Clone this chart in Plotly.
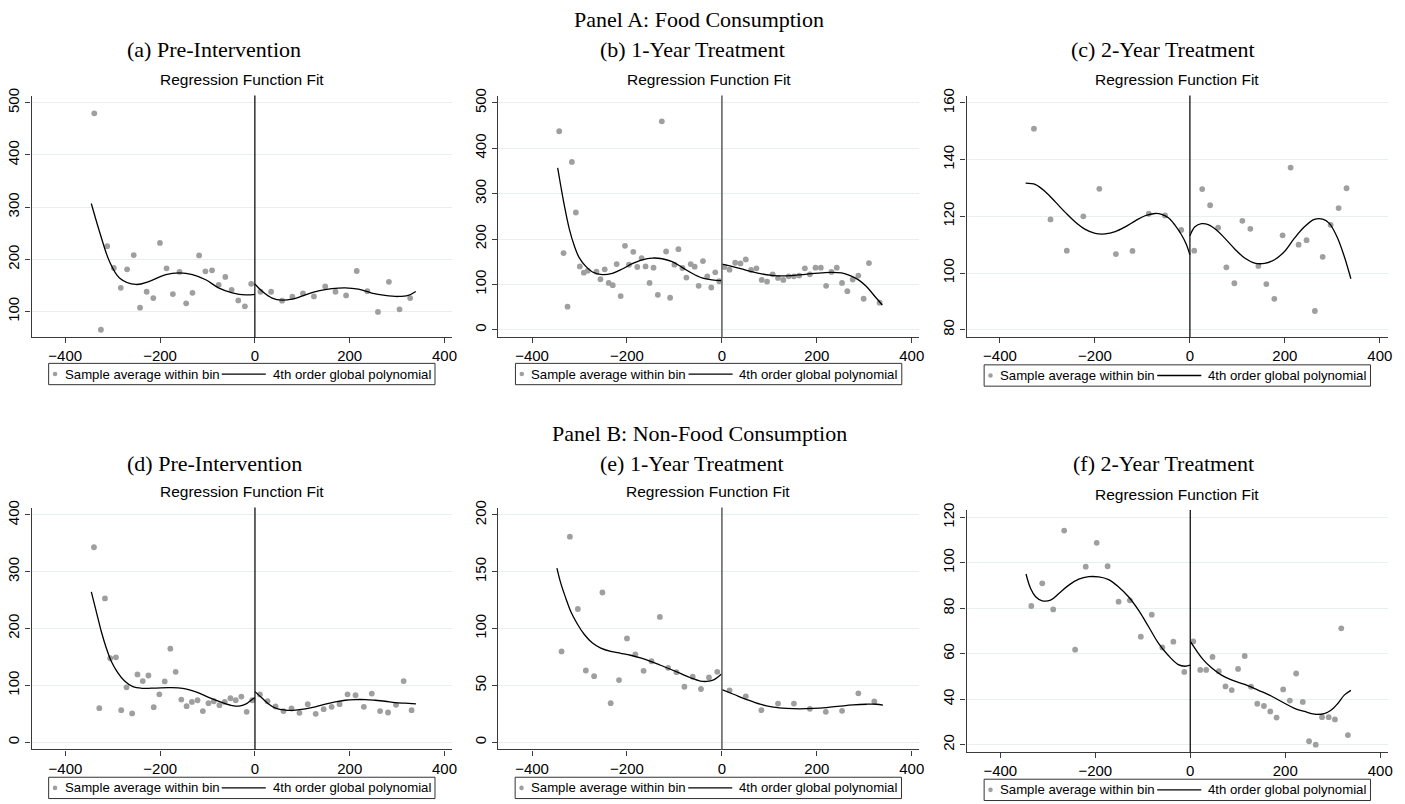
import plotly.graph_objects as go

W, H = 1405, 804

# ---------------- DATA ----------------
# Panel (a) Food, Pre-Intervention
a_pts_x = [-338.7, -324.7, -311.5, -297.5, -282.8, -269.5, -255.5, -242.2, -228.2, -214.2, -200.2, -186.2,
           -172.9, -158.9, -144.9, -131.6, -117.6, -104.3, -90.3, -76.3, -62.3, -49.0, -35.0, -21.0, -7.7,
           11.9, 34.3, 57.4, 79.1, 101.5, 124.6, 148.4, 170.1, 192.5, 214.9, 237.3, 259.7, 282.8, 305.2, 327.6]
a_pts_y = [479.7, 65.2, 225.3, 183.5, 145.6, 181.0, 208.2, 107.6, 138.0, 126.0, 231.6, 182.9,
           133.5, 176.0, 115.8, 136.0, 207.6, 177.2, 179.1, 151.3, 166.5, 141.8, 121.5, 110.1, 153.2,
           138.0, 138.0, 120.9, 128.5, 134.8, 129.1, 148.1, 138.0, 131.0, 177.8, 139.2, 99.4, 157.0, 104.4, 126.0]
a_fitL_x = [-345, -327.6, -306.6, -285.6, -250.6, -222.6, -187.6, -159.6, -131.6, -103.6, -75.6, -47.6, -19.6, 0]
a_fitL_y = [307, 253, 196, 164.6, 152, 158, 171, 174, 171, 161, 145, 136, 132, 133]
a_fitR_x = [0, 15.4, 36.4, 57.4, 78.4, 106.4, 134.4, 162.4, 190.4, 218.4, 246.4, 274.4, 302.4, 323.4, 339.4]
a_fitR_y = [153, 139, 126, 122, 124, 132, 139.6, 144, 145.6, 143, 135.6, 131, 129, 131, 138.6]

# Panel (b) Food, 1-Year Treatment
b_pts_x = [-342.7, -333.6, -325.2, -316.1, -307.7, -299.3, -290.9, -282.5, -264.3, -255.9, -246.9, -238.5,
           -230.0, -221.7, -213.3, -204.2, -195.8, -186.7, -178.3, -169.2, -160.8, -152.4, -144.1, -135.0,
           -126.6, -117.5, -109.1, -100.0, -91.6, -83.2, -74.8, -65.7, -57.3, -49.0, -39.9, -30.8, -22.4,
           -14.0, -5.6,
           5.6, 16.1, 28.0, 39.2, 50.3, 61.5, 72.7, 83.9, 95.1, 107.0, 118.2, 129.4, 140.6, 151.7, 162.9,
           174.8, 185.3, 197.2, 208.4, 219.6, 230.8, 242.0, 253.1, 264.3, 275.5, 287.4, 298.6, 309.8, 332.2]
b_pts_y = [437.3, 168.8, 50.9, 369.7, 258.4, 139.7, 125.9, 130.3, 128.1, 111.4, 133.2, 103.3,
           98.3, 144.8, 74.2, 184.9, 143.4, 171.8, 138.3, 157.9, 139.7, 103.3, 136.8, 77.1,
           459.2, 172.5, 70.6, 143.4, 177.6, 136.1, 115.0, 144.8, 139.0, 96.8, 151.4, 117.9, 93.2,
           126.6, 107.0,
           138.3, 132.5, 147.7, 146.3, 155.0, 131.7, 135.4, 109.9, 106.3, 122.3, 114.3, 109.9, 117.9, 117.9, 119.4,
           135.4, 122.3, 136.8, 136.8, 96.8, 127.4, 136.8, 103.3, 85.2, 110.6, 119.4, 68.4, 147.0, 59.7]
b_fitL_x = [-346, -339, -332, -321.7, -311, -300.7, -286.7, -272.7, -251.7, -230.8, -209.8, -188.8, -167.8,
            -146.9, -125.9, -104.9, -83.9, -62.9, -42, -21, 0]
b_fitL_y = [356.6, 314, 274, 223, 185, 159, 139.7, 127.4, 121.5, 124.5, 134, 145.6, 154.3,
            158, 156.5, 150, 137.6, 124.5, 114.3, 110, 108.4]
b_fitR_x = [0, 21, 42, 63, 84, 105, 126, 147, 168, 189, 210, 231, 252, 269, 287, 304, 322, 338]
b_fitR_y = [144.8, 139.7, 134, 128, 123, 120, 118.6, 119.4, 121.5, 123.7, 125.2, 126.6, 125.2, 120, 110.6, 96, 74, 54.6]

# Panel (c) Food, 2-Year Treatment
c_pts_x = [-328.5, -293.6, -259.3, -224.4, -190.8, -155.9, -120.9, -86.7, -52.4, -18.2,
           9.1, 25.9, 42.6, 59.4, 76.8, 93.7, 110.5, 127.3, 144.2, 161.0, 177.8, 195.3, 212.1, 228.9,
           245.7, 263.2, 279.6, 296.4, 313.2, 329.9]
c_pts_y = [150.9, 118.9, 107.9, 120.0, 129.7, 106.7, 107.8, 120.9, 120.3, 115.2,
           107.9, 129.6, 123.9, 116.0, 102.0, 96.4, 118.4, 115.6, 102.5, 96.1, 90.9, 113.3, 137.2, 110.0,
           111.6, 86.6, 105.7, 117.0, 122.9, 129.9]
c_fitL_x = [-346, -325, -304, -283, -262, -241.5, -220.5, -199.5, -178.5, -157.3, -136.3, -115.3, -94.4,
            -73.4, -59.4, -45.4, -31.5, -17.5, -7, 0]
c_fitL_y = [131.7, 131.2, 128.6, 125, 121.3, 118, 115.4, 114, 113.8, 114.6, 116.3, 118.4, 120.2,
            121, 120.7, 119.5, 116.9, 113.4, 109.9, 106.4]
c_fitR_x = [0, 10.5, 24.5, 38.4, 55.9, 73.4, 94.4, 115.3, 136.3, 157.3, 178.2, 199.2, 220.2, 241.2,
            262.1, 279.6, 293.6, 311.1, 325, 339]
c_fitR_y = [113.1, 116.3, 117.4, 117.1, 115.2, 112.3, 108.5, 105.3, 103.5, 103.4, 104.7, 107.6, 112.3, 116.3,
            118.9, 119, 117.5, 112.3, 105.9, 98]

# Panel (d) Non-Food, Pre-Intervention
d_pts_x = [-339.8, -328.5, -316.6, -305.4, -293.5, -282.3, -271.1, -259.2, -248.0, -236.8, -224.9, -213.7,
           -201.8, -190.5, -178.6, -167.4, -155.5, -144.3, -133.1, -121.2, -110.0, -98.1, -86.9, -75.0,
           -63.8, -51.8, -40.6, -28.7, -17.5, -5.6,
           10.5, 26.6, 43.4, 60.2, 77.1, 93.9, 111.4, 128.2, 145.0, 161.8, 178.6, 195.4, 212.3, 229.8,
           246.6, 264.1, 280.9, 297.7, 313.8, 330.6]
d_pts_y = [343.0, 59.9, 252.9, 147.7, 149.4, 56.4, 96.5, 50.6, 119.2, 107.6, 117.4, 61.6,
           84.3, 107.0, 164.5, 123.8, 75.0, 63.4, 70.9, 73.8, 54.7, 68.6, 72.1, 65.1,
           70.9, 77.3, 73.8, 80.2, 53.5, 73.8,
           84.0, 72.1, 62.8, 54.7, 59.3, 51.7, 66.9, 50.0, 58.1, 62.2, 66.9, 84.3, 82.6, 62.2,
           85.5, 54.7, 52.3, 65.7, 107.6, 56.4]
d_fitL_x = [-345.4, -334.9, -324.3, -313.8, -303.3, -289.3, -275.2, -257.8, -236.8, -208.7, -180.7, -152.6,
            -124.6, -96.6, -68.6, -47.6, -33.6, -19.6, -5.6, 0]
d_fitL_y = [264.5, 229.7, 194.8, 165.7, 142.4, 122, 107.6, 97.7, 94.8, 95.3, 95.9, 94.8,
            88.4, 78.5, 69.8, 64.5, 63.4, 66.9, 75.6, 78.5]
d_fitR_x = [0, 15.4, 29.4, 43.4, 64.4, 85.5, 106.5, 127.5, 148.5, 169.5, 190.5, 211.5, 232.6, 253.6,
            274.6, 295.6, 316.6, 339.8]
d_fitR_y = [89, 77.3, 66.9, 59.9, 56.4, 56.4, 58.7, 62.2, 66.9, 70.9, 73.8, 75, 75, 73.8,
            72.1, 69.8, 68.6, 67.4]

# Panel (e) Non-Food, 1-Year Treatment
e_pts_x = [-337.8, -320.3, -303.5, -286.7, -269.2, -251.7, -234.3, -216.8, -200.0, -182.5, -165.0, -148.3,
           -130.8, -113.3, -95.8, -79.0, -61.5, -44.1, -27.3, -9.8,
           16.1, 50.3, 83.2, 118.2, 151.7, 185.3, 218.9, 253.1, 287.4, 321.0]
e_pts_y = [79.9, 180.8, 117.2, 63.1, 58.1, 131.7, 34.3, 54.7, 91.3, 77.3, 62.8, 71.2,
           110.2, 65.4, 61.6, 48.8, 57.6, 46.8, 57.0, 61.9,
           45.6, 40.4, 28.2, 34.0, 34.0, 29.4, 26.7, 27.6, 43.0, 35.8]
e_fitL_x = [-347.6, -339.2, -328.7, -318.2, -304.2, -290.2, -272.7, -255.2, -234.3, -213.3, -192.3, -171.3,
            -150.3, -129.4, -108.4, -87.4, -66.4, -45.5, -31.5, -17.5, -7, 0]
e_fitL_y = [153.2, 139.5, 126.5, 114.8, 103.8, 95, 87.2, 82.8, 79.9, 78.2, 76.5, 74.1,
            71.2, 67.7, 64.2, 60.5, 56.7, 53.8, 53.5, 54.9, 57.8, 60.2]
e_fitR_x = [0, 24.5, 52.4, 80.4, 108.4, 136.4, 164.3, 192.3, 220.3, 248.3, 276.2, 304.2, 325.2, 339.2]
e_fitR_y = [46.2, 42.2, 37.5, 33.4, 30.8, 29.7, 29.4, 29.7, 30.5, 31.7, 32.8, 33.4, 33.4, 32.6]

# Panel (f) Non-Food, 2-Year Treatment
f_pts_x = [-334.7, -311.6, -288.6, -265.5, -242.4, -220.1, -197.0, -174.0, -150.9, -127.2, -104.1, -81.0,
           -58.7, -35.6, -12.6,
           6.3, 21.0, 33.5, 46.8, 60.1, 74.1, 87.3, 100.6, 114.6, 127.9, 141.1, 155.1, 168.4, 181.7,
           195.6, 209.6, 222.9, 236.9, 250.1, 264.1, 277.4, 291.4, 304.6, 317.9, 331.9]
f_pts_y = [81.0, 91.0, 79.5, 114.2, 61.8, 98.3, 108.8, 98.5, 82.9, 83.5, 67.5, 77.2,
           62.8, 65.3, 52.0,
           65.4, 52.9, 52.9, 58.6, 52.3, 45.6, 44.0, 53.3, 59.0, 45.5, 38.0, 37.0, 34.6, 31.9,
           44.3, 39.4, 51.3, 38.8, 21.5, 20.0, 32.1, 32.1, 31.1, 71.2, 24.2]
f_fitL_x = [-345.8, -336.1, -325.6, -311.6, -294.2, -276.7, -255.7, -234.7, -213.8, -192.8, -171.9, -150.9,
            -130, -109, -88, -67.1, -46.1, -25.2, -11.2, 0]
f_fitL_y = [95.1, 88.7, 85.1, 83.3, 83.6, 86.5, 90.2, 92.8, 93.9, 93.8, 92.6, 89.4,
            85.1, 79.2, 72, 64.7, 59.2, 55.2, 54.5, 55]
f_fitR_x = [0, 13.3, 27.2, 44.7, 65.7, 86.6, 114.6, 142.5, 170.5, 198.4, 219.4, 240.3, 261.3, 282.3,
            296.2, 310.2, 324.2, 338.2]
f_fitR_y = [65.4, 61.3, 57.4, 53.8, 50.6, 48.5, 46.5, 44, 41.4, 38.2, 36, 34.6, 33.4, 33.7,
            35.1, 38, 41.8, 43.9]

x_ticks = [-400, -200, 0, 200, 400]
subplot_titles = ["(a) Pre-Intervention", "(b) 1-Year Treatment", "(c) 2-Year Treatment",
                  "(d) Pre-Intervention", "(e) 1-Year Treatment", "(f) 2-Year Treatment"]
panel_titles = ["Panel A: Food Consumption", "Panel B: Non-Food Consumption"]
inner_title = "Regression Function Fit"
legend_labels = ["Sample average within bin", "4th order global polynomial"]

# ---------------- LAYOUT GEOMETRY (pixels) ----------------
panels = [
    dict(px=(31.7, 454), py=(89.3, 333.3), xr=[-471, 416], yr=[50.6, 513.9], yt=[100, 200, 300, 400, 500],
         d=(a_pts_x, a_pts_y, a_fitL_x, a_fitL_y, a_fitR_x, a_fitR_y), vc="#111", leg_top=359.5),
    dict(px=(500, 923.3), py=(89.3, 333.3), xr=[-472, 416], yr=[-16.7, 516], yt=[0, 100, 200, 300, 400, 500],
         d=(b_pts_x, b_pts_y, b_fitL_x, b_fitL_y, b_fitR_x, b_fitR_y), vc="#666", leg_top=359.5),
    dict(px=(970.7, 1394), py=(89.3, 333.3), xr=[-470.4, 417.3], yr=[77.3, 162.6], yt=[80, 100, 120, 140, 160],
         d=(c_pts_x, c_pts_y, c_fitL_x, c_fitL_y, c_fitR_x, c_fitR_y), vc="#111", leg_top=361),
    dict(px=(31.7, 454), py=(505, 749), xr=[-471.5, 416], yr=[-12.8, 412.8], yt=[0, 100, 200, 300, 400],
         d=(d_pts_x, d_pts_y, d_fitL_x, d_fitL_y, d_fitR_x, d_fitR_y), vc="#111", leg_top=777),
    dict(px=(500, 922.7), py=(505, 749), xr=[-472, 414.7], yr=[-6.4, 206.4], yt=[0, 50, 100, 150, 200],
         d=(e_pts_x, e_pts_y, e_fitL_x, e_fitL_y, e_fitR_x, e_fitR_y), vc="#666", leg_top=777),
    dict(px=(970.7, 1394), py=(507.3, 751.7), xr=[-471, 416.4], yr=[16.7, 123.3], yt=[20, 40, 60, 80, 100, 120],
         d=(f_pts_x, f_pts_y, f_fitL_x, f_fitL_y, f_fitR_x, f_fitR_y), vc="#111", leg_top=779),
]

SANS = "Liberation Sans, Arial, Helvetica, sans-serif"
SERIF = "Liberation Serif, Times New Roman, serif"
PT_COLOR = "#9f9f9f"
GRID = "#e7eff0"
AXC = "#3a3a3a"

fig = go.Figure()
layout = dict(width=W, height=H, margin=dict(l=0, r=0, t=0, b=0),
              paper_bgcolor="white", plot_bgcolor="white", showlegend=False,
              font=dict(family=SANS, color="black"))
shapes = []
annotations = []


def fx(p):
    return p / W


def fy(p):
    return 1 - p / H


for i, p in enumerate(panels):
    k = "" if i == 0 else str(i + 1)
    xa, ya = "x" + k, "y" + k
    px_, py_, yr = p["px"], p["py"], p["yr"]
    ptx, pty, lx, ly, rx, ry = p["d"]
    fig.add_trace(go.Scatter(x=ptx, y=pty, mode="markers", xaxis=xa, yaxis=ya,
                             marker=dict(color=PT_COLOR, size=5.8, line=dict(width=0)),
                             name=legend_labels[0]))
    for fxs, fys in ((lx, ly), (rx, ry)):
        fig.add_trace(go.Scatter(x=fxs, y=fys, mode="lines", xaxis=xa, yaxis=ya,
                                 line=dict(color="black", width=1.3, shape="spline", smoothing=1.0),
                                 name=legend_labels[1]))
    layout["xaxis" + k] = dict(domain=[fx(px_[0]), fx(px_[1])], range=p["xr"], anchor=ya,
                               tickvals=x_ticks, showgrid=False, zeroline=False,
                               showline=True, linecolor=AXC, linewidth=1.2,
                               ticks="outside", ticklen=5, tickcolor=AXC, tickwidth=1.2,
                               tickfont=dict(family=SANS, size=15, color="black"))
    layout["yaxis" + k] = dict(domain=[fy(py_[1]), fy(py_[0])], range=yr, anchor=xa,
                               tickvals=p["yt"], showgrid=True, gridcolor=GRID, gridwidth=1,
                               zeroline=False, showline=True, linecolor=AXC, linewidth=1.2,
                               ticks="outside", ticklen=5, tickcolor=AXC, tickwidth=1.2,
                               tickangle=-90,
                               tickfont=dict(family=SANS, size=15, color="black"))
    # vertical cutoff line at 0
    shapes.append(dict(type="line", xref=xa, yref=ya + " domain", x0=0, x1=0, y0=0, y1=1,
                       line=dict(color=p["vc"], width=1.3 if p["vc"] == "#111" else 1.6)))
    cx = (px_[0] + px_[1]) / 2
    annotations.append(dict(text=inner_title, xref="paper", yref="paper",
                            x=fx(cx), y=fy(py_[0] - 16), xanchor="center",
                            yanchor="middle", showarrow=False,
                            font=dict(family=SANS, size=15.5, color="black")))
    # legend box (Stata style)
    lt = p["leg_top"]
    lb = lt + 21.5
    lm = (lt + lb) / 2
    shapes.append(dict(type="rect", xref="paper", yref="paper",
                       x0=fx(cx - 194), x1=fx(cx + 194), y0=fy(lb), y1=fy(lt),
                       line=dict(color="#333", width=1), fillcolor="white"))
    shapes.append(dict(type="circle", xref="paper", yref="paper",
                       x0=fx(cx - 187.6 - 2.3), x1=fx(cx - 187.6 + 2.3),
                       y0=fy(lm + 2.3), y1=fy(lm - 2.3),
                       line=dict(width=0), fillcolor=PT_COLOR))
    shapes.append(dict(type="line", xref="paper", yref="paper",
                       x0=fx(cx - 20.2), x1=fx(cx + 24.1), y0=fy(lm), y1=fy(lm),
                       line=dict(color="black", width=1.3)))
    annotations.append(dict(text=legend_labels[0], xref="paper", yref="paper",
                            x=fx(cx - 180), y=fy(lm), xanchor="left", yanchor="middle",
                            showarrow=False, font=dict(family=SANS, size=13.2, color="black")))
    annotations.append(dict(text=legend_labels[1], xref="paper", yref="paper",
                            x=fx(cx + 29), y=fy(lm), xanchor="left", yanchor="middle",
                            showarrow=False, font=dict(family=SANS, size=13.2, color="black")))

sub_x = [215, 695, 1168, 215, 695, 1168]
sub_y = [43, 43, 43, 461, 461, 461]
for t, sx, sy in zip(subplot_titles, sub_x, sub_y):
    annotations.append(dict(text=t, xref="paper", yref="paper", x=fx(sx), y=fy(sy),
                            xanchor="center", yanchor="middle", showarrow=False,
                            font=dict(family=SERIF, size=22, color="black")))
for t, sy in zip(panel_titles, [13, 430]):
    annotations.append(dict(text=t, xref="paper", yref="paper", x=fx(702), y=fy(sy),
                            xanchor="center", yanchor="middle", showarrow=False,
                            font=dict(family=SERIF, size=22, color="black")))

layout["shapes"] = shapes
layout["annotations"] = annotations
fig.update_layout(**layout)
fig.write_html("out.html")
